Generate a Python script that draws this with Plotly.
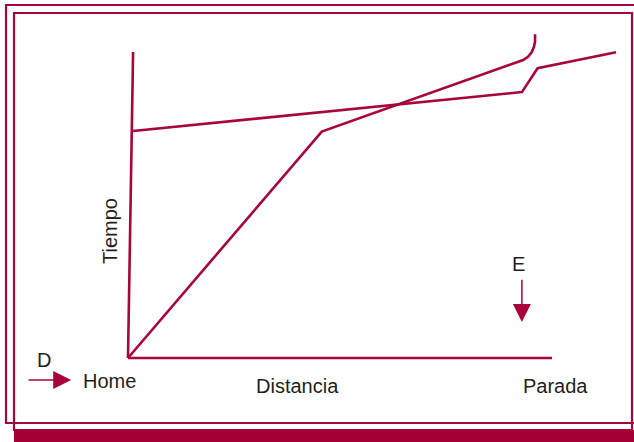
import plotly.graph_objects as go

# ---- data (distance / time units) ----
eje_tiempo_d = [0, 1.2]
eje_tiempo_t = [0, 100]
eje_distancia_d = [0, 100]
eje_distancia_t = [0, 0]

linea_a_d = [1.2, 92.9, 96.6, 115.1]
linea_a_t = [74.2, 86.9, 94.7, 99.9]

linea_b_d = [0, 45.7, 93.2, 94.4, 95.2, 95.75, 96.0, 96.0]
linea_b_t = [0, 74.0, 97.4, 98.5, 99.9, 101.7, 103.4, 105.8]

etiquetas = ["Home", "Distancia", "Parada", "D", "E"]
etiquetas_d = [-4.4, 39.9, 100.8, -19.8, 92.0]
etiquetas_t = [-7.5, -9.3, -9.2, -0.7, 30.7]

# ---- style / layout ----
W, H = 634, 442
ORIG_X, ORIG_Y = 128, 358
SX, SY = 4.24, 3.06
RED = "#A8053A"
BAR = "#A50034"
TXT = "#231F20"
FONT = "Liberation Sans, Arial, sans-serif"

fig = go.Figure()
for dd, tt in [(eje_tiempo_d, eje_tiempo_t), (eje_distancia_d, eje_distancia_t),
               (linea_a_d, linea_a_t), (linea_b_d, linea_b_t)]:
    fig.add_trace(go.Scatter(x=dd, y=tt, mode="lines",
                             line=dict(color=RED, width=2.6),
                             hoverinfo="skip", showlegend=False))

for txt, dx, ty in zip(etiquetas, etiquetas_d, etiquetas_t):
    fig.add_annotation(x=dx, y=ty, text=txt, showarrow=False,
                       xanchor="center", yanchor="middle",
                       font=dict(family=FONT, size=20, color=TXT))

fig.add_annotation(x=-4.25, y=41.5, text="Tiempo", textangle=-90, showarrow=False,
                   xanchor="center", yanchor="middle",
                   font=dict(family=FONT, size=20, color=TXT))

# arrows D and E
fig.add_annotation(x=-13.4, y=-7.2, ax=-23.8, ay=-7.2, axref="x", ayref="y",
                   text="", showarrow=True, arrowhead=2, arrowsize=2.4,
                   arrowwidth=1.5, arrowcolor=RED)
fig.add_annotation(x=92.9, y=11.8, ax=92.9, ay=26.1, axref="x", ayref="y",
                   text="", showarrow=True, arrowhead=2, arrowsize=2.4,
                   arrowwidth=1.5, arrowcolor=RED)

def px(x):
    return x / W

def py(y):
    return 1 - y / H

# frame
fig.add_shape(type="rect", xref="paper", yref="paper",
              x0=px(6), x1=px(650), y0=py(5), y1=py(423),
              line=dict(color=RED, width=2.2), fillcolor="rgba(0,0,0,0)")
fig.add_shape(type="rect", xref="paper", yref="paper",
              x0=px(14), x1=px(632), y0=py(13), y1=py(430),
              line=dict(color=RED, width=2.2), fillcolor="rgba(0,0,0,0)")
fig.add_shape(type="rect", xref="paper", yref="paper",
              x0=px(14), x1=px(640), y0=py(430), y1=py(445),
              line=dict(width=0), fillcolor=BAR)

fig.update_layout(
    width=W, height=H,
    margin=dict(l=0, r=0, t=0, b=0),
    paper_bgcolor="white", plot_bgcolor="white",
    xaxis=dict(range=[-ORIG_X / SX, (W - ORIG_X) / SX], visible=False, fixedrange=True),
    yaxis=dict(range=[-(H - ORIG_Y) / SY, ORIG_Y / SY], visible=False, fixedrange=True),
)

fig.write_html("out.html", config={"displayModeBar": False},
               post_script="document.body.style.margin='0';document.body.style.padding='0';document.body.style.overflow='hidden';")
